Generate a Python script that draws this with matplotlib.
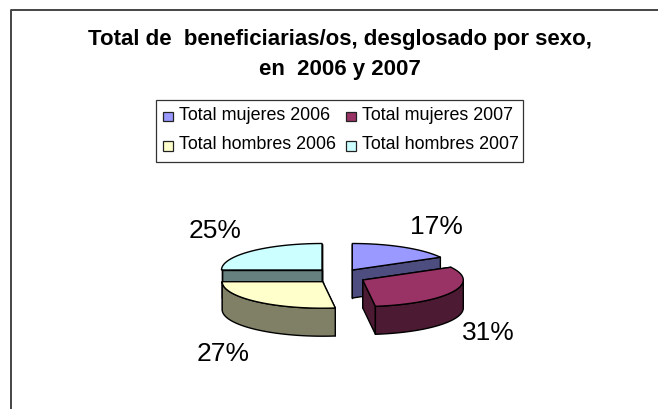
import numpy as np
import matplotlib
matplotlib.use("Agg")
import matplotlib.pyplot as plt
from matplotlib.patches import Polygon, Rectangle

title_lines = ["Total de  beneficiarias/os, desglosado por sexo,", "en  2006 y 2007"]
labels = ["Total mujeres 2006", "Total mujeres 2007", "Total hombres 2006", "Total hombres 2007"]
values = [17, 31, 27, 25]
pct_labels = ["17%", "31%", "27%", "25%"]
top_colors = ["#9999FF", "#993366", "#FFFFCC", "#CCFFFF"]
side_colors = ["#4D4D80", "#4D1A33", "#808066", "#668080"]

# layout (pixel space)
W, H = 658, 409
centers = [(352.3, 270), (362.8, 280), (322.7, 281.7), (322, 270)]
RX, RY, DEPTH = 100.5, 26.5, 28
pct_pos = [(436.7, 227), (488, 332.5), (222.7, 354), (215, 230.5)]

plt.rcParams["font.family"] = ["Liberation Sans", "DejaVu Sans"]
fig = plt.figure(figsize=(W / 100, H / 100), dpi=100)
ax = fig.add_axes([0, 0, 1, 1])
ax.set_xlim(0, W)
ax.set_ylim(H, 0)
ax.axis("off")

# outer frame
ax.plot([10.5, 10.5, W], [H, 10.2, 10.2], color="#444444", lw=1.4, solid_capstyle="butt")

ax.text(340, 40, title_lines[0], ha="center", va="center", fontsize=16, fontweight="bold", color="black")
ax.text(340, 69, title_lines[1], ha="center", va="center", fontsize=16, fontweight="bold", color="black")

# legend
ax.add_patch(Rectangle((156, 100), 366.7, 61.7, fc="white", ec="#333333", lw=0.9))
leg_pos = [(163, 116.5), (346, 116.5), (163, 146), (346, 146)]
for (x, y), lab, col in zip(leg_pos, labels, top_colors):
    ax.add_patch(Rectangle((x, y - 4.7), 9.5, 9.5, fc=col, ec="#222222", lw=0.9))
    ax.text(x + 16, y - 1.5, lab, ha="left", va="center", fontsize=12.9, color="black")


def ell(c, th):
    return np.column_stack([c[0] + RX * np.sin(th), c[1] - RY * np.cos(th)])


frac = np.array(values, dtype=float) / sum(values)
edges = np.concatenate([[0], np.cumsum(frac)]) * 2 * np.pi
order = [3, 0, 2, 1]  # back to front
for i in order:
    c = np.array(centers[i])
    t0, t1 = edges[i], edges[i + 1]
    th = np.linspace(t0, t1, 60)
    rim = ell(c, th)
    down = np.array([0, DEPTH])
    kw = dict(ec="black", lw=1.0, joinstyle="round")
    # cut faces
    for tt in (t0, t1):
        p = ell(c, np.array([tt]))[0]
        ax.add_patch(Polygon([c, p, p + down, c + down], fc=side_colors[i], **kw))
    # outer wall (front half only)
    vis = (np.cos(th) < 0.02)
    if vis.any():
        r = rim[vis]
        ax.add_patch(Polygon(np.vstack([r, r[::-1] + down]), fc=side_colors[i], **kw))
    # top
    ax.add_patch(Polygon(np.vstack([c, rim]), fc=top_colors[i], **kw))

for (x, y), t in zip(pct_pos, pct_labels):
    ax.text(x, y, t, ha="center", va="center", fontsize=19, color="black")

fig.savefig("out.png", dpi=100)
